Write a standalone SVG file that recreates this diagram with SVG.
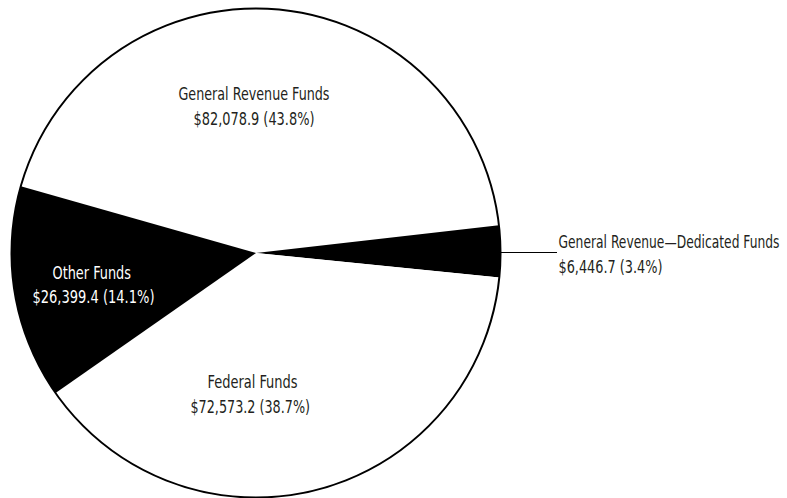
<svg xmlns="http://www.w3.org/2000/svg" width="787" height="498" viewBox="0 0 787 498">
<style>
  .lbl { font-family: "DejaVu Sans Condensed", "Liberation Sans", Arial, sans-serif; font-stretch: condensed; font-size: 17px; fill: #231f20; }
  .inv { fill: #ffffff; }
  .white { fill: #ffffff; stroke: none; }
  .black { fill: #000000; stroke: none; }
  .leader { stroke: #000000; stroke-width: 1.2; fill: none; }
</style>
<rect width="787" height="498" fill="#ffffff"/>
<g id="general-revenue-funds">
  <path class="white" d="M256,253 L20.8,186.3 A244.5,244.5 0 0 1 498.9,225.3 Z"/>
  <text class="lbl" x="178.5" y="100" textLength="151" lengthAdjust="spacingAndGlyphs">General Revenue Funds</text>
  <text class="lbl" x="193.5" y="125" textLength="121" lengthAdjust="spacingAndGlyphs">$82,078.9 (43.8%)</text>
</g>
<g id="general-revenue-dedicated-funds">
  <path class="black" d="M256,253 L498.9,225.3 A244.5,244.5 0 0 1 499.3,277.5 Z"/>
  <text class="lbl" style="font-size:14px" transform="translate(558.5,247.5) scale(1,1.214)" x="0" y="0" textLength="221" lengthAdjust="spacingAndGlyphs">General Revenue—Dedicated Funds</text>
  <text class="lbl" x="558.5" y="273" textLength="104" lengthAdjust="spacingAndGlyphs">$6,446.7 (3.4%)</text>
</g>
<g id="federal-funds">
  <path class="white" d="M256,253 L499.3,277.5 A244.5,244.5 0 0 1 55.6,393 Z"/>
  <text class="lbl" x="207.5" y="387.5" textLength="90" lengthAdjust="spacingAndGlyphs">Federal Funds</text>
  <text class="lbl" x="190.5" y="412.5" textLength="119.5" lengthAdjust="spacingAndGlyphs">$72,573.2 (38.7%)</text>
</g>
<g id="other-funds">
  <path class="black" d="M256,253 L55.6,393 A244.5,244.5 0 0 1 20.8,186.3 Z"/>
  <text class="lbl inv" x="52.5" y="279" textLength="78.5" lengthAdjust="spacingAndGlyphs">Other Funds</text>
  <text class="lbl inv" x="32.5" y="303" textLength="122" lengthAdjust="spacingAndGlyphs">$26,399.4 (14.1%)</text>
</g>
<circle cx="256" cy="253" r="244.5" fill="none" stroke="#000000" stroke-width="2"/>
<g id="connectors">
  <line class="leader" x1="501" y1="252.5" x2="557" y2="252.5"/>
</g>
</svg>
